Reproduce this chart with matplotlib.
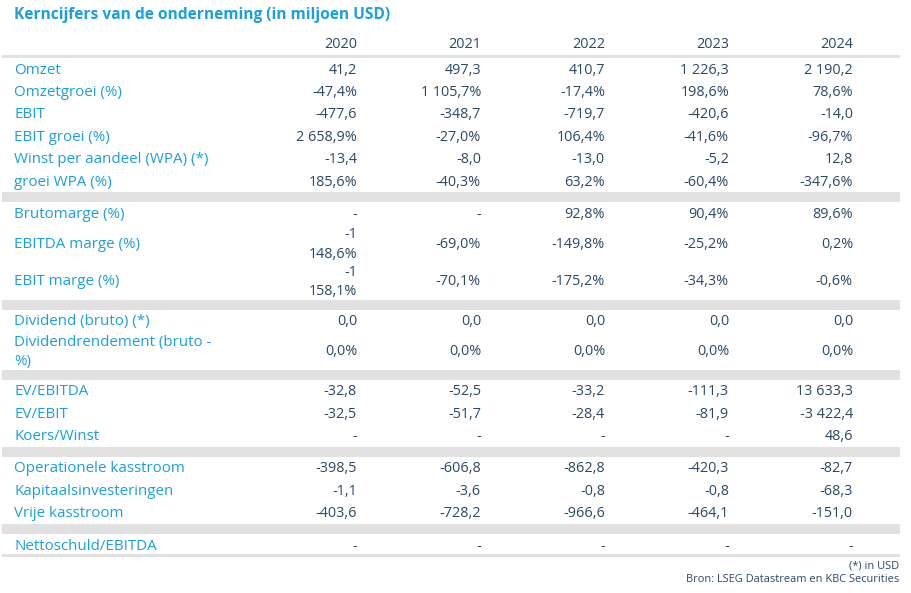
import matplotlib
matplotlib.use("Agg")
import matplotlib.pyplot as plt
from matplotlib.patches import Rectangle

plt.rcParams['font.family'] = ['Open Sans', 'DejaVu Sans']

title = "Kerncijfers van de onderneming (in miljoen USD)"
years = ["2020", "2021", "2022", "2023", "2024"]

# groups of rows, separated by grey bands
group1_labels = ["Omzet", "Omzetgroei (%)", "EBIT", "EBIT groei (%)",
                 "Winst per aandeel (WPA) (*)", "groei WPA (%)"]
group1_values = [
    ["41,2", "497,3", "410,7", "1 226,3", "2 190,2"],
    ["-47,4%", "1 105,7%", "-17,4%", "198,6%", "78,6%"],
    ["-477,6", "-348,7", "-719,7", "-420,6", "-14,0"],
    ["2 658,9%", "-27,0%", "106,4%", "-41,6%", "-96,7%"],
    ["-13,4", "-8,0", "-13,0", "-5,2", "12,8"],
    ["185,6%", "-40,3%", "63,2%", "-60,4%", "-347,6%"],
]
group2_labels = ["Brutomarge (%)", "EBITDA marge (%)", "EBIT marge (%)"]
group2_values = [
    ["-", "-", "92,8%", "90,4%", "89,6%"],
    ["-1\n148,6%", "-69,0%", "-149,8%", "-25,2%", "0,2%"],
    ["-1\n158,1%", "-70,1%", "-175,2%", "-34,3%", "-0,6%"],
]
group3_labels = ["Dividend (bruto) (*)", "Dividendrendement (bruto -\n%)"]
group3_values = [
    ["0,0", "0,0", "0,0", "0,0", "0,0"],
    ["0,0%", "0,0%", "0,0%", "0,0%", "0,0%"],
]
group4_labels = ["EV/EBITDA", "EV/EBIT", "Koers/Winst"]
group4_values = [
    ["-32,8", "-52,5", "-33,2", "-111,3", "13 633,3"],
    ["-32,5", "-51,7", "-28,4", "-81,9", "-3 422,4"],
    ["-", "-", "-", "-", "48,6"],
]
group5_labels = ["Operationele kasstroom", "Kapitaalsinvesteringen", "Vrije kasstroom"]
group5_values = [
    ["-398,5", "-606,8", "-862,8", "-420,3", "-82,7"],
    ["-1,1", "-3,6", "-0,8", "-0,8", "-68,3"],
    ["-403,6", "-728,2", "-966,6", "-464,1", "-151,0"],
]
group6_labels = ["Nettoschuld/EBITDA"]
group6_values = [["-", "-", "-", "-", "-"]]

footnote = "(*) in USD"
source = "Bron: LSEG Datastream en KBC Securities"

groups = [(group1_labels, group1_values), (group2_labels, group2_values),
          (group3_labels, group3_values), (group4_labels, group4_values),
          (group5_labels, group5_values), (group6_labels, group6_values)]

BLUE = "#1a9fe0"
NAVY = "#2b4868"
GREY = "#e1e1e1"
W, H = 911, 593

fig = plt.figure(figsize=(W / 100, H / 100), dpi=100)
ax = fig.add_axes([0, 0, 1, 1])
ax.set_xlim(0, W)
ax.set_ylim(H, 0)
ax.axis("off")

left, right = 2, 900
label_x = 14
col_x = [357, 481, 605, 729, 853]
row_h = 22.4
row_h2 = 37.5
band_h = 10
fs_lab = 10.9
fs_val = 10.4

ax.text(label_x, 15, title, color=BLUE, fontsize=11.2, fontweight="bold",
        va="center", ha="left")

for x, y in zip(col_x, years):
    ax.text(x, 45, y, color=NAVY, fontsize=fs_val, va="center", ha="right")
ax.add_patch(Rectangle((left, 55), right - left, 3, color=GREY, lw=0))

y = 58
for gi, (labels, values) in enumerate(groups):
    if gi > 0:
        ax.add_patch(Rectangle((left, y), right - left, band_h, color=GREY, lw=0))
        y += band_h
    for lab, vals in zip(labels, values):
        two = "\n" in lab or any("\n" in v for v in vals)
        h = row_h2 if two else row_h
        yc = y + h / 2 + 0.8
        ax.text(label_x, yc, lab, color=BLUE, fontsize=fs_lab, va="center",
                ha="left", linespacing=1.35)
        for x, v in zip(col_x, vals):
            ax.text(x, yc, v, color=NAVY, fontsize=fs_val, va="center",
                    ha="right", linespacing=1.4, multialignment="right")
        y += h
ax.add_patch(Rectangle((left, y - 2), right - left, 3, color=GREY, lw=0))

ax.text(right - 1, 566, footnote, color=NAVY, fontsize=7.9, va="center", ha="right")
ax.text(right - 1, 580, source, color=NAVY, fontsize=7.9, va="center", ha="right")

fig.savefig("out.png", dpi=100)
